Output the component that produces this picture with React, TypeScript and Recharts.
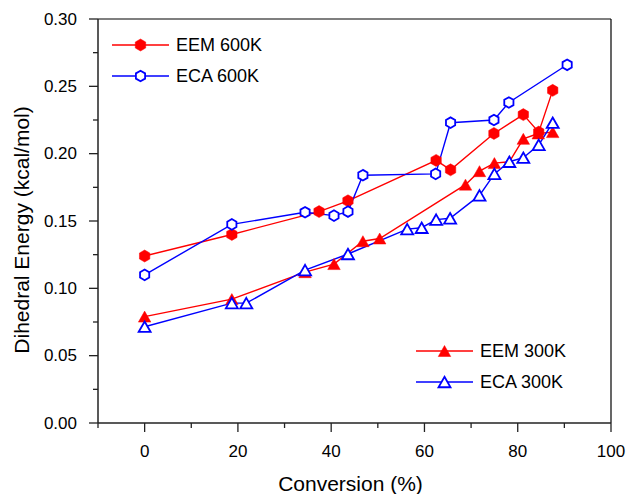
import React from 'react';
import { LineChart, Line, XAxis, YAxis, Legend, ReferenceLine } from 'recharts';

// ---- Data ----
const eem600Conv = [0, 18.7, 37.4, 43.6, 62.5, 65.6, 74.9, 81.2, 84.5, 87.5];
const eem600Energy = [0.124, 0.14, 0.157, 0.165, 0.195, 0.188, 0.215, 0.229, 0.216, 0.247];

const eca600Conv = [0, 18.7, 34.4, 40.6, 43.6, 46.8, 62.4, 65.6, 74.9, 78.1, 90.6];
const eca600Energy = [0.11, 0.1475, 0.1565, 0.154, 0.157, 0.184, 0.185, 0.223, 0.225, 0.238, 0.266];

const eem300Conv = [0, 18.7, 34.4, 40.6, 46.8, 50.4, 68.8, 71.8, 75.0, 78.2, 81.2, 84.4, 87.5];
const eem300Energy = [0.079, 0.092, 0.112, 0.118, 0.135, 0.137, 0.177, 0.187, 0.193, 0.194, 0.211, 0.215, 0.216];

const eca300Conv = [0, 18.7, 21.8, 34.4, 43.6, 56.3, 59.4, 62.5, 65.5, 71.8, 75.0, 78.2, 81.2, 84.5, 87.5];
const eca300Energy = [0.0715, 0.089, 0.089, 0.1135, 0.1255, 0.144, 0.145, 0.151, 0.152, 0.169, 0.185, 0.194, 0.197, 0.2065, 0.223];

const xTicks = [-10, 0, 10, 20, 30, 40, 50, 60, 70, 80, 90, 100];
const xMajorTicks = [0, 20, 40, 60, 80, 100];
const yTicks = [0, 0.025, 0.05, 0.075, 0.1, 0.125, 0.15, 0.175, 0.2, 0.225, 0.25, 0.275, 0.3];
const yMajorTicks = [0, 0.05, 0.1, 0.15, 0.2, 0.25, 0.3];

const seriesNames = ['EEM 600K', 'ECA 600K', 'EEM 300K', 'ECA 300K'];

const toPoints = (xs: number[], ys: number[]) => xs.map((x, i) => ({ x, y: ys[i] }));
const eem600 = toPoints(eem600Conv, eem600Energy);
const eca600 = toPoints(eca600Conv, eca600Energy);
const eem300 = toPoints(eem300Conv, eem300Energy);
const eca300 = toPoints(eca300Conv, eca300Energy);

const FONT = '"Liberation Sans", Arial, Helvetica, sans-serif';
const RED = '#ff0000';
const BLUE = '#0000ff';
const AXIS = '#222';

// ---- Marker shapes ----
const hexPath = (cx: number, cy: number, r: number) => {
  const pts: string[] = [];
  for (let i = 0; i < 6; i++) {
    const a = (Math.PI / 180) * (90 + 60 * i);
    pts.push(`${cx + r * Math.cos(a)},${cy - r * Math.sin(a)}`);
  }
  return `M${pts.join('L')}Z`;
};
const triPath = (cx: number, cy: number, w: number, h: number) =>
  `M${cx},${cy - h / 2}L${cx + w / 2},${cy + h / 2}L${cx - w / 2},${cy + h / 2}Z`;

const FilledHex = ({ cx, cy }: any) => <path d={hexPath(cx, cy, 6)} fill={RED} stroke={RED} strokeWidth={0.5} />;
const OpenHex = ({ cx, cy }: any) => <path d={hexPath(cx, cy, 5.3)} fill="#fff" stroke={BLUE} strokeWidth={1.8} />;
const FilledTri = ({ cx, cy }: any) => <path d={triPath(cx, cy, 12.5, 11)} fill={RED} stroke={RED} strokeWidth={0.5} />;
const OpenTri = ({ cx, cy }: any) => <path d={triPath(cx, cy, 12, 10.5)} fill="#fff" stroke={BLUE} strokeWidth={1.8} />;

const dotOf = (Shape: any) => (p: any) =>
  p.cx == null || p.cy == null ? <g key={p.index} /> : <Shape key={p.index} cx={p.cx} cy={p.cy} />;

// ---- Ticks with minor marks ----
const isMajor = (v: number, list: number[]) => list.some((m) => Math.abs(m - v) < 1e-9);

const Y_TICK_SIZE = 9;
const Y_TICK_MARGIN = 12;
const YTick = ({ x, y, payload }: any) => {
  const v = payload.value;
  const major = isMajor(v, yMajorTicks);
  const axisX = x + Y_TICK_SIZE + Y_TICK_MARGIN;
  return (
    <g>
      <line x1={axisX - (major ? 9 : 5)} x2={axisX} y1={y} y2={y} stroke={AXIS} strokeWidth={1.3} />
      {major && (
        <text x={x} y={y} textAnchor="end" dominantBaseline="central" fontSize={17} fontFamily={FONT} fill="#000">
          {v.toFixed(2)}
        </text>
      )}
    </g>
  );
};

const X_TICK_SIZE = 9;
const X_TICK_MARGIN = 13;
const XTick = ({ x, y, payload }: any) => {
  const v = payload.value;
  const major = isMajor(v, xMajorTicks);
  const axisY = y - X_TICK_SIZE - X_TICK_MARGIN;
  return (
    <g>
      <line x1={x} x2={x} y1={axisY} y2={axisY + (major ? 9 : 5)} stroke={AXIS} strokeWidth={1.3} />
      {major && (
        <text x={x} y={y} dy="0.71em" textAnchor="middle" fontSize={17} fontFamily={FONT} fill="#000">
          {String(v)}
        </text>
      )}
    </g>
  );
};

// ---- Legend ----
const LegendItem = ({ x, y, color, Shape, label }: any) => (
  <g>
    <line x1={x} x2={x + 57} y1={y} y2={y} stroke={color} strokeWidth={1.5} />
    <Shape cx={x + 28.5} cy={y} />
    <text x={x + 64} y={y} dominantBaseline="central" fontSize={18} fontFamily={FONT} fill="#000">
      {label}
    </text>
  </g>
);

const LegendContent = () => (
  <svg width={628} height={494} style={{ overflow: 'visible' }}>
    <LegendItem x={112} y={45} color={RED} Shape={FilledHex} label={seriesNames[0]} />
    <LegendItem x={112} y={76} color={BLUE} Shape={OpenHex} label={seriesNames[1]} />
    <LegendItem x={416} y={351} color={RED} Shape={FilledTri} label={seriesNames[2]} />
    <LegendItem x={416} y={382} color={BLUE} Shape={OpenTri} label={seriesNames[3]} />
  </svg>
);

const YTitle = ({ viewBox }: any) => {
  const cx = viewBox.x + 21;
  const cy = viewBox.y + viewBox.height / 2 + 9;
  return (
    <text x={cx} y={cy} transform={`rotate(-90 ${cx} ${cy})`} textAnchor="middle" dominantBaseline="central" fontSize={21} fontFamily={FONT} fill="#000">
      Dihedral Energy (kcal/mol)
    </text>
  );
};

const XTitle = ({ viewBox }: any) => {
  const cx = viewBox.x + viewBox.width / 2 - 4;
  const cy = viewBox.y + 60;
  return (
    <text x={cx} y={cy} textAnchor="middle" dominantBaseline="central" fontSize={21} fontFamily={FONT} fill="#000">
      Conversion (%)
    </text>
  );
};

export default function App() {
  return (
    <div style={{ position: 'absolute', left: 0, top: 0, width: 628, height: 494, background: '#fff' }}>
      <LineChart width={628} height={494} margin={{ top: 19, right: 17, bottom: 0, left: 0 }}>
        <XAxis
          type="number"
          dataKey="x"
          domain={[-10, 100]}
          ticks={xTicks}
          interval={0}
          allowDataOverflow
          height={71}
          stroke={AXIS}
          strokeWidth={1.5}
          tickLine={false}
          tickSize={X_TICK_SIZE}
          tickMargin={X_TICK_MARGIN}
          tick={<XTick />}
          label={<XTitle />}
        />
        <YAxis
          type="number"
          dataKey="y"
          domain={[0, 0.3]}
          ticks={yTicks}
          interval={0}
          allowDataOverflow
          width={98}
          stroke={AXIS}
          strokeWidth={1.5}
          tickLine={false}
          tickSize={Y_TICK_SIZE}
          tickMargin={Y_TICK_MARGIN}
          tick={<YTick />}
          label={<YTitle />}
        />
        <ReferenceLine y={0.3} stroke="#000" strokeWidth={1.2} />
        <ReferenceLine x={100} stroke="#000" strokeWidth={1.2} />
        <Line data={eem300} dataKey="y" name={seriesNames[2]} stroke={RED} strokeWidth={1.4} dot={dotOf(FilledTri)} activeDot={false} isAnimationActive={false} />
        <Line data={eca300} dataKey="y" name={seriesNames[3]} stroke={BLUE} strokeWidth={1.4} dot={dotOf(OpenTri)} activeDot={false} isAnimationActive={false} />
        <Line data={eem600} dataKey="y" name={seriesNames[0]} stroke={RED} strokeWidth={1.4} dot={dotOf(FilledHex)} activeDot={false} isAnimationActive={false} />
        <Line data={eca600} dataKey="y" name={seriesNames[1]} stroke={BLUE} strokeWidth={1.4} dot={dotOf(OpenHex)} activeDot={false} isAnimationActive={false} />
        <Legend
          layout="horizontal"
          verticalAlign="middle"
          align="center"
          wrapperStyle={{ position: 'absolute', left: 0, top: 0, width: 628, height: 494, pointerEvents: 'none' }}
          content={() => <LegendContent />}
        />
      </LineChart>
    </div>
  );
}
